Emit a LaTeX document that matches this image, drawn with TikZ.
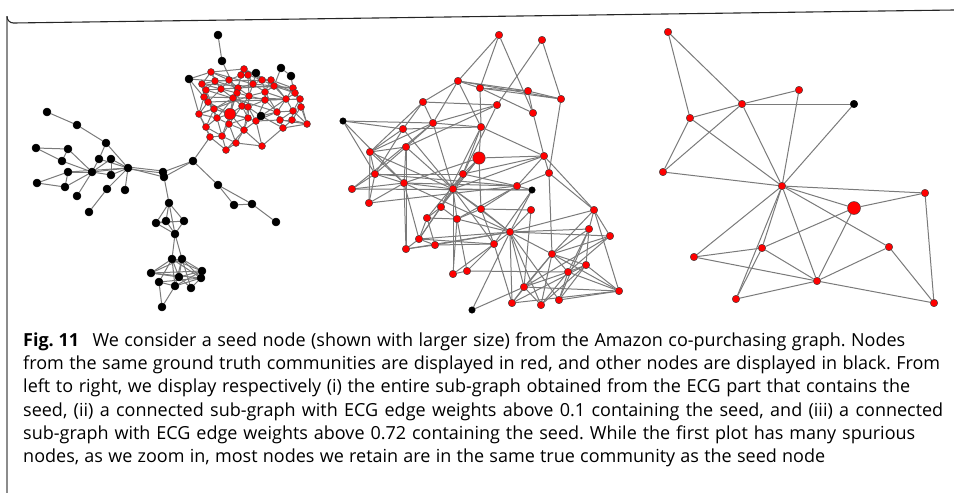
\documentclass[tikz,border=0pt]{standalone}
\usepackage{fontspec}
\setmainfont{Open Sans}
\usetikzlibrary{backgrounds}
\begin{document}
\frenchspacing
\begin{tikzpicture}[x=1pt,y=-1pt,
  nd/.style={circle,inner sep=0pt,minimum size=7.5pt,draw=black!75,line width=0.45pt},
  rn/.style={nd,fill=red},
  bn/.style={nd,fill=black,draw=black},
  rs/.style={rn,minimum size=7pt},
  bs/.style={bn,minimum size=8pt},
  edge/.style={draw=black!52,line width=1pt},
  captext/.style={anchor=base west,inner sep=0pt,font=\fontsize{18pt}{20pt}\selectfont}]
\useasboundingbox (0,0) rectangle (954,493);
% frame
\draw[black!45,line width=1.1pt] (7,493) -- (7,16);
\draw[black!85,line width=1.1pt] (7,16.5) arc[start angle=180,end angle=90,radius=6.5] -- (954,10);

% ---------- graph 1 ----------
\foreach \n/\x/\y in {r1/211/72,r2/244/69,r3/241/75,r4/248/75,r5/202/84,r6/215/81,r7/229/80,r8/262/80,r9/271/80,r10/206/90,r11/221/89,r12/238/88,r13/253/84,r14/274/86,r15/293/88,r16/295/93,r17/237/93,r18/233/98,r19/249/96,r20/265/92,r21/204/97,r22/208/102,r23/265/100,r24/286/99,r25/300/99,r26/301/107,r27/214/109,r28/242/106,r29/248/107,r30/199/114,r31/217/118,r32/248/118,r33/277/112,r34/293/111,r35/229/124,r36/256/121,r37/280/120,r38/292/120,r39/307/124,r40/206/127,r41/244/130,r42/210/137,r43/222/136,r44/283/128,r45/236/143,r46/226/150,r47/262/146}
  \node[rs] (\n) at (\x,\y) {};
\node[rn,minimum size=11.5pt] (s1) at (230,114) {};
\foreach \n/\x/\y in {k1/218/35,k2/222/61,k3/189/79,k4/256/73,k5/281/68,k6/291/76,k7/261/116,
  t1/47/112,t2/77/125,t3/106/143,t4/36/148,t5/68/149,t6/62/161,t7/99/159,t8/111/159,t9/128/168,t10/68/172,t11/92/172,t12/111/175,t13/37/183,t14/65/187,t15/107/189,t16/125/190,t17/77/196,t18/89/212,
  u1/163/172,u2/164/177,u3/193/161,u4/218/185,u5/234/205,u6/252/204,u7/276/222,
  v1/169/203,v2/156/223,v3/166/221,v4/184/221,v5/175/234,
  w1/172/259,w2/182/259,w3/151/273,w4/202/271,w5/201/278,w6/179/277,w7/159/282,w8/175/286,w9/191/288,w10/162/307}
  \node[bs] (\n) at (\x,\y) {};

% ---------- graph 2 ----------
\foreach \n/\x/\y in {g1/499/35,g2/542/40,g3/458/81,g4/480/88,g5/528/91,g6/561/99,g7/423/102,g8/497/105,g9/533/113,g10/433/123,g11/403/129,g12/481/127,g13/406/147,g14/370/152,g15/544/156,g16/463/174,g17/375/174,g18/549/173,g19/404/183,g20/517/186,g21/352/189,g22/453/189,g23/369/203,g24/441/207,g25/481/209,g26/531/210,g27/594/210,g28/427/218,g29/457/219,g30/589/229,g31/510/232,g32/610/236,g33/419/239,g34/435/245,g35/494/244,g36/406/249,g37/552/254,g38/586/265,g39/453/274,g40/467/271,g41/568/272,g42/524/287,g43/619/291,g44/512/303,g45/541/305,g46/559/300}
  \node[rn] (\n) at (\x,\y) {};
\node[rn,minimum size=12.5pt] (gs) at (479,158) {};
\foreach \n/\x/\y in {gb1/343/121,gb2/532/190,gb3/472/310}
  \node[bn,minimum size=6.5pt] (\n) at (\x,\y) {};

% ---------- graph 3 ----------
\foreach \n/\x/\y in {h1/668/32,h2/799/90,h3/742/104,h5/690/118,h6/663/172,h7/782/186,h8/925/193,h9/762/248,h10/889/247,h11/694/257,h12/817/281,h13/736/299,h14/934/303}
  \node[rn] (\n) at (\x,\y) {};
\node[bn] (h4) at (854,104) {};
\node[rn,minimum size=13pt] (hs) at (854,208) {};

\begin{scope}[on background layer]
% graph 1 cluster
\foreach \a/\b in {k1/k2,k2/r17,k3/r1,k3/r6,k3/r22,k3/r30,k5/k6,k6/r15,k5/r14,k4/r13,k4/r8,k4/r4,k7/r33,k7/r36,k7/r29,k7/r24,k7/r44,
 r1/r6,r1/r5,r1/r7,r1/r2,r1/r11,r2/r3,r2/r4,r2/r8,r2/r13,r3/r4,r3/r7,r3/r12,r3/r17,r4/r13,r4/r8,r4/r19,
 r5/r6,r5/r10,r5/r21,r5/r11,r6/r7,r6/r11,r6/r10,r6/r12,r7/r12,r7/r11,r7/r17,r7/r8,r7/r9,
 r8/r9,r8/r13,r8/r20,r8/r14,r9/r14,r9/r15,r9/r20,r9/r24,r10/r21,r10/r11,r10/r22,r10/r27,
 r11/r12,r11/r18,r11/r17,r11/r22,r12/r17,r12/r13,r12/r19,r12/r18,r13/r19,r13/r20,r13/r14,
 r14/r15,r14/r20,r14/r24,r14/r16,r15/r16,r15/r24,r15/r25,r16/r25,r16/r24,r16/r26,
 r17/r18,r17/r19,r17/r28,r17/s1,r18/s1,r18/r28,r18/r27,r18/r31,r19/r28,r19/r29,r19/r20,r19/r23,
 r20/r23,r20/r24,r20/r33,r21/r22,r21/r30,r21/r27,r22/r27,r22/r30,r22/r31,
 r23/r24,r23/r33,r23/r29,r23/r36,r24/r25,r24/r33,r24/r34,r25/r26,r25/r34,r25/r39,r26/r34,r26/r38,r26/r39,
 r27/r31,r27/r30,r27/s1,r27/r40,r28/r29,r28/s1,r28/r32,r28/r35,r29/r32,r29/r36,r29/r41,
 s1/r31,s1/r35,s1/r32,s1/r41,s1/r43,s1/r12,s1/r22,r30/r40,r30/r31,r30/r42,r31/r35,r31/r40,r31/r43,
 r32/r36,r32/r41,r32/r35,r33/r34,r33/r37,r33/r36,r33/r44,r34/r38,r34/r37,r34/r39,
 r35/r43,r35/r41,r35/r45,r36/r41,r36/r47,r36/r37,r37/r38,r37/r44,r37/r39,r38/r39,r38/r44,
 r40/r42,r40/r43,r41/r45,r41/r47,r41/r46,r42/r43,r42/r46,r43/r46,r43/r45,r45/r46,r45/r47,r44/r47,r44/r39,
 r10/r33,r22/r25,r11/r14,r6/r9,r5/r15,r21/r24,r1/r13,r30/r19,r27/r36,r2/r16}
  \draw[edge] (\a) -- (\b);
% graph 1 tree
\foreach \a/\b in {t1/t2,t2/t3,t3/t9,t3/t7,t4/t5,t4/t6,t5/t6,t5/t11,t6/t11,t10/t11,t10/t9,t10/t14,t13/t10,t13/t14,t14/t11,
 t11/t7,t11/t8,t11/t9,t11/t12,t11/t17,t7/t9,t8/t9,t8/t12,t12/t9,t15/t9,t15/t18,t16/t9,
 t9/u2,u1/u2,u1/u3,u2/u3,u2/v1,u3/u4,u3/r42,u4/u5,u4/u6,u5/u6,u6/u7,
 v1/v2,v1/v3,v1/v4,v1/v5,v2/v3,v3/v4,v2/v5,v3/v5,v4/v5,v2/v4,v5/w1,v5/w2,
 w1/w3,w1/w4,w1/w5,w1/w6,w1/w7,w1/w8,w1/w2,w2/w3,w2/w4,w2/w5,w2/w6,w2/w9,w2/w8,
 w3/w4,w3/w6,w3/w5,w7/w5,w7/w8,w7/w10,w8/w10,w8/w5,w9/w5,w9/w6,w6/w4,w8/w4}
  \draw[edge] (\a) -- (\b);
\draw[edge] ([yshift=-1pt]t9.center) -- ([yshift=-1pt]u1.center);
\draw[edge] ([yshift=1pt]t9.center) -- ([yshift=1pt]u1.center);
% graph 2
\foreach \a/\b in {g1/g3,g1/g4,g1/g9,g2/g8,g2/g6,g3/g4,g3/g5,g3/g6,g3/g7,g3/g10,g3/g12,g4/g5,g4/g6,g4/g12,g4/g9,g5/g6,g5/g9,g6/g18,
 g7/g11,g7/g10,g7/g8,g7/g14,g8/g10,g8/g16,g8/g13,g9/g15,gb1/g10,gb1/g11,gb1/g17,gb1/g19,
 g10/g12,g10/g14,g10/g13,g10/g21,g10/g22,g11/g12,g11/g14,g11/g17,g11/g22,g12/gs,g12/g15,g12/g16,g12/g24,
 g13/g14,g13/g19,g13/g22,g13/g17,g13/g36,g14/g17,g14/g23,g14/g19,g14/g22,
 gs/g15,gs/g16,gs/g22,gs/g25,gs/g24,gs/g19,g15/g16,g15/g18,g15/g20,g15/g22,g15/g27,
 g16/g17,g16/g22,g16/g28,g16/g20,g17/g20,g17/g19,g17/g23,g18/g37,g18/g27,g18/g20,
 g19/g22,g19/g36,g19/g33,g19/g20,g19/g31,g20/g29,g20/g25,g20/gb2,g21/g17,g21/gb2,g21/g19,
 g22/g24,g22/g25,g22/g29,g22/g31,g22/g39,g22/gb2,g22/g33,g22/g35,g23/g19,g23/g20,
 g24/g28,g24/g33,g24/g29,g25/g31,g25/g35,g25/g29,g25/g26,g26/g31,g26/g42,
 g27/g31,g27/g30,g27/g32,g27/g37,g27/g43,gb2/g31,gb2/g35,g28/g29,g28/g33,g28/g34,
 g29/g39,g29/g31,g29/g40,g30/g37,g30/g31,g30/g38,g30/g41,g30/g46,
 g31/g32,g31/g37,g31/g44,g31/g45,g31/g46,g31/g42,g31/g35,g31/g36,g31/g33,g31/g34,
 g32/g37,g32/g41,g32/g42,g33/g36,g33/g34,g33/g35,g34/g36,g34/g35,g35/g39,g35/g40,g35/g44,
 g37/g38,g37/g41,g37/g42,g37/g43,g37/g45,g38/g41,g38/g43,g38/g44,g38/g46,g39/g40,g40/g41,
 g41/g42,g41/g43,g41/g45,g41/g46,g42/g44,g42/g43,g42/g45,g42/gb3,g43/g44,g43/g46,g44/g37,g45/g38,gb3/g31}
  \draw[edge] (\a) -- (\b);
% graph 3
\foreach \a/\b in {h1/h5,h1/h3,h5/h3,h3/h2,h3/h4,h5/h6,h6/h3,h5/h7,h3/h7,h2/h7,h4/h7,h6/h7,h7/h8,h7/hs,h7/h10,h7/h12,h7/h9,h7/h11,h7/h13,h9/h13,
 hs/h8,hs/h9,hs/h12,h8/h14,h10/h12,h10/h14,h9/h11,h9/h12,h11/h12,h12/h13,h12/h14}
  \draw[edge] (\a) -- (\b);
\end{scope}

% ---------- caption ----------
\node[captext] (l1) at (23,346) {\makebox[882pt][s]{\mbox{\textbf{Fig.\ 11}}\hspace{8pt} We consider a seed node (shown with larger size) from the Amazon co-purchasing graph. Nodes}};
\node[captext] (l2) at (23,369.3) {\makebox[917pt][s]{from the same ground truth communities are displayed in red, and other nodes are displayed in black. From}};
\node[captext] (l3) at (23,392.6) {\makebox[887pt][s]{left to right, we display respectively (i) the entire sub-graph obtained from the ECG part that contains the}};
\node[captext] (l4) at (23,416) {\makebox[920pt][s]{seed, (ii) a connected sub-graph with ECG edge weights above 0.1 containing the seed, and (iii) a connected}};
\node[captext] (l5) at (23,439.3) {\makebox[892pt][s]{sub-graph with ECG edge weights above 0.72 containing the seed. While the first plot has many spurious}};
\node[captext] (l6) at (23,462.6) {\makebox[802pt][s]{nodes, as we zoom in, most nodes we retain are in the same true community as the seed node}};
\end{tikzpicture}
\end{document}
